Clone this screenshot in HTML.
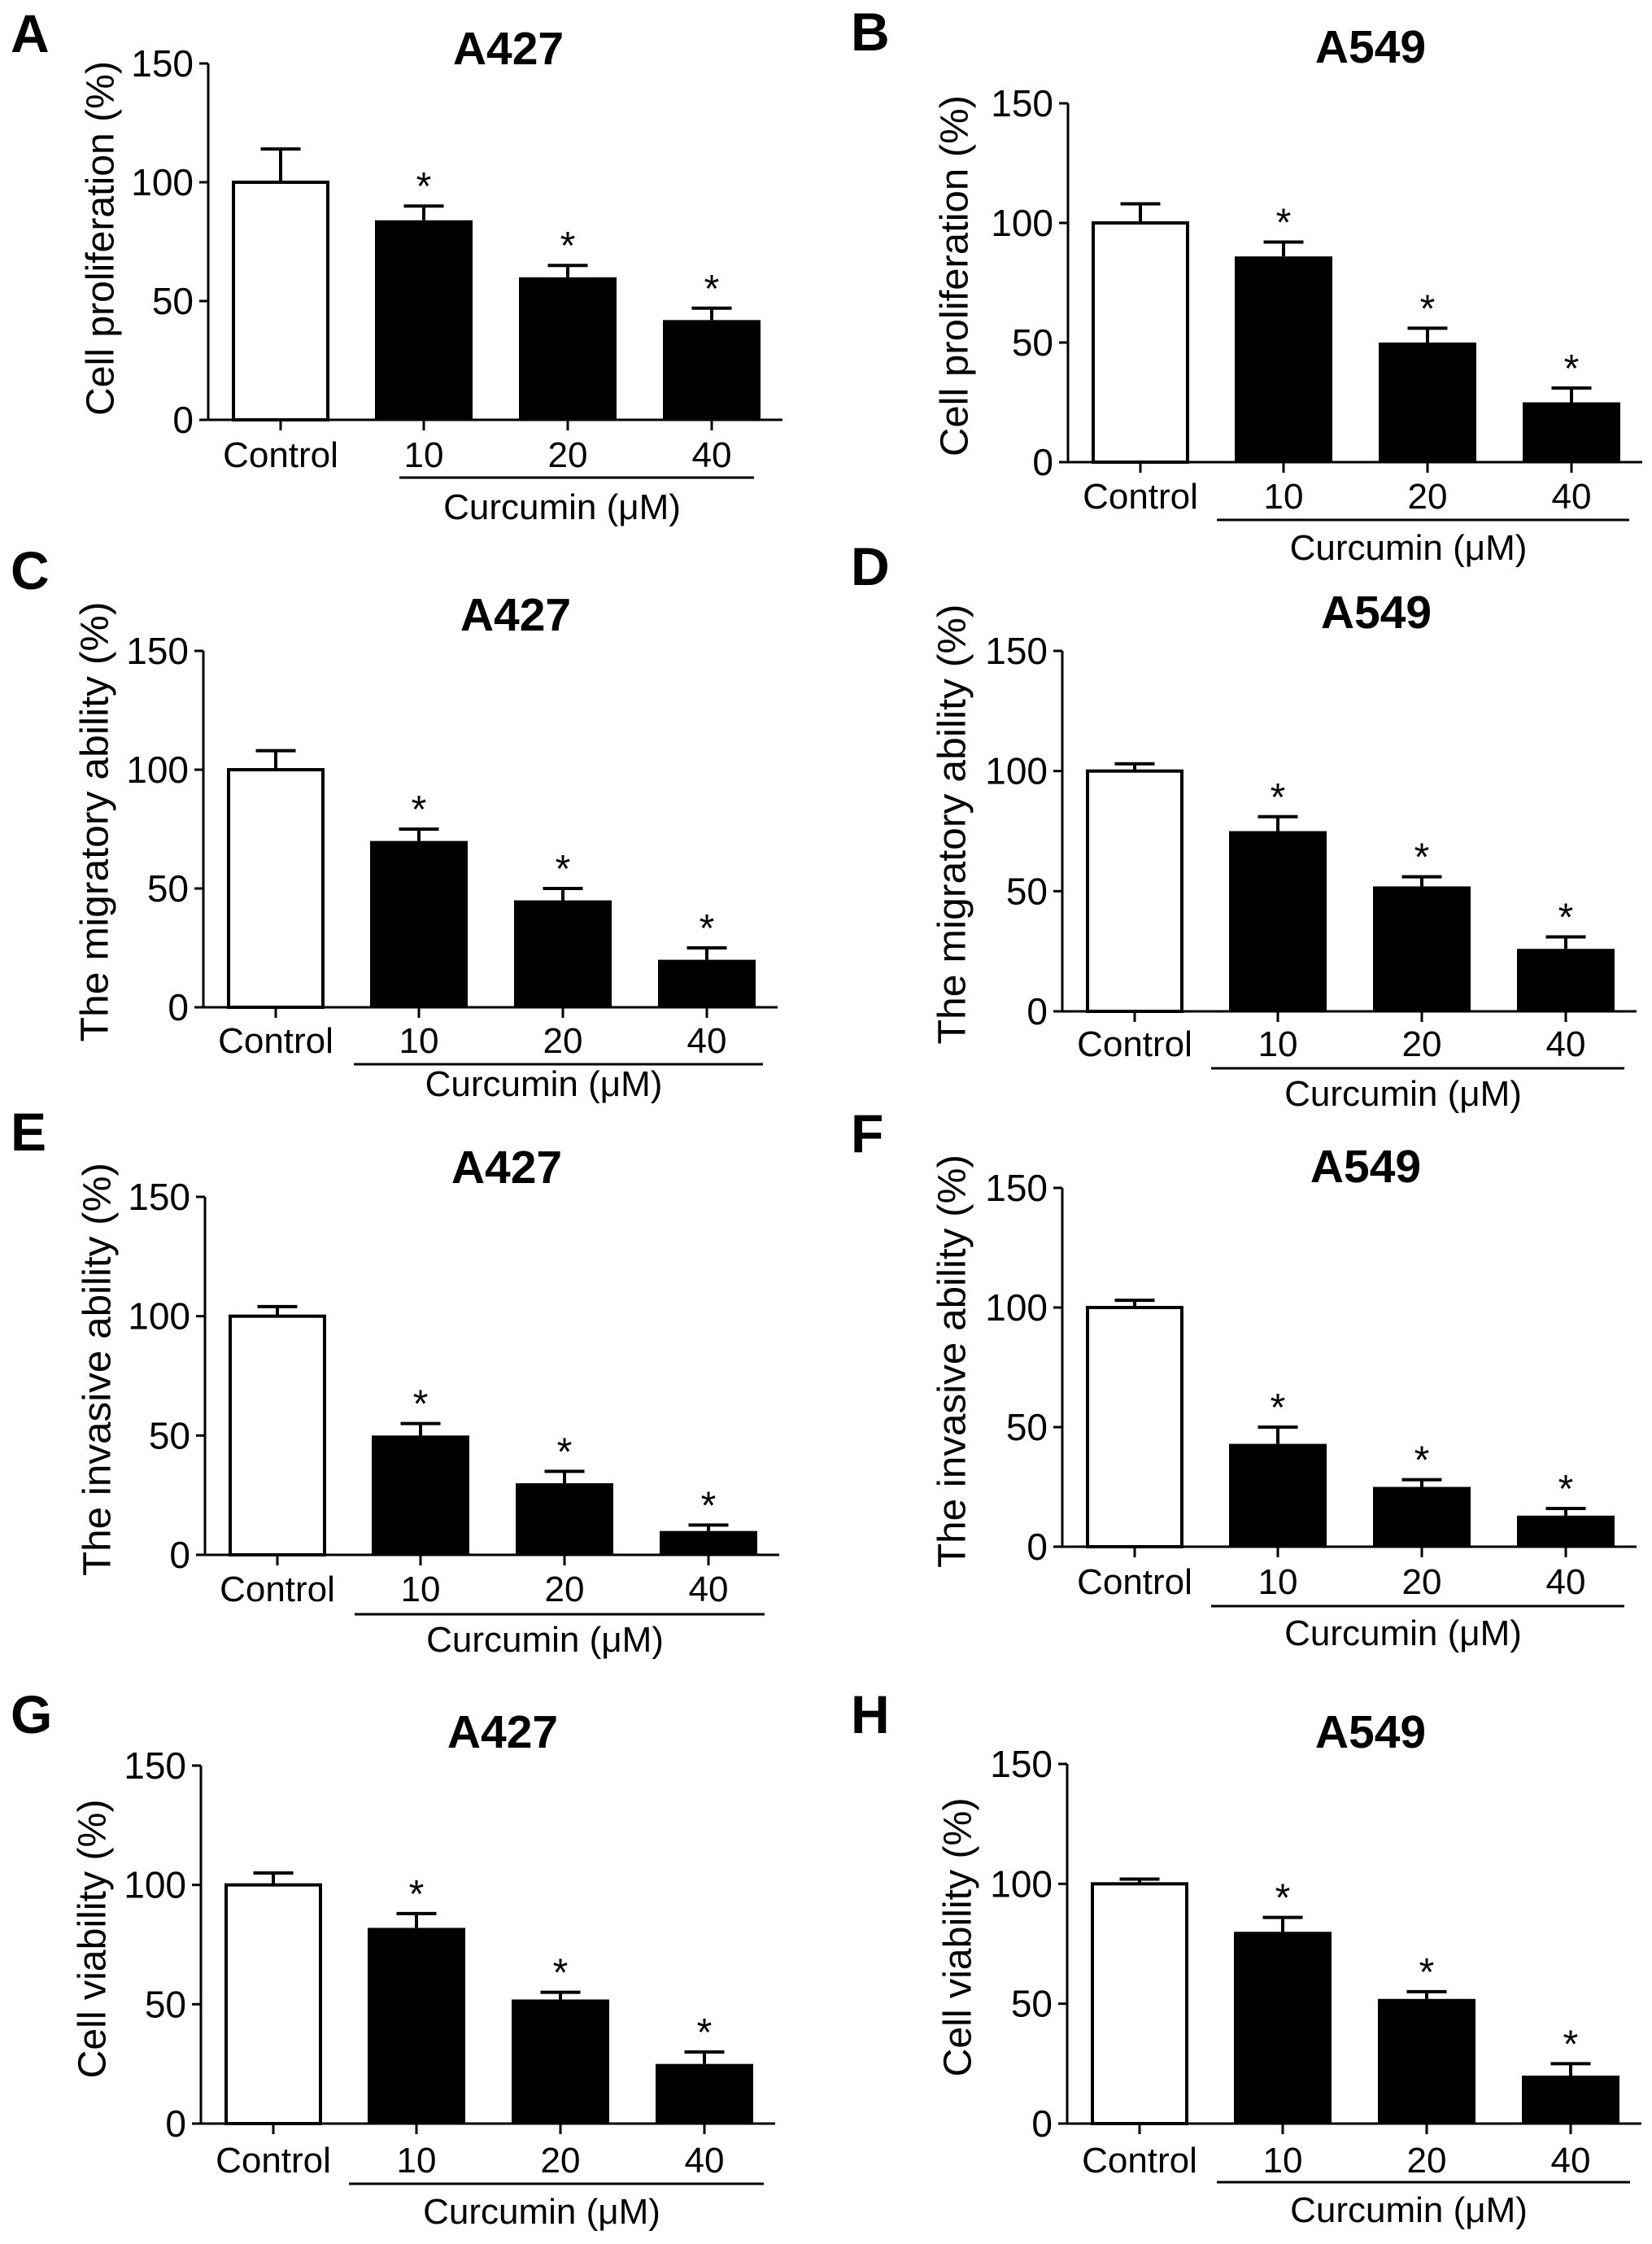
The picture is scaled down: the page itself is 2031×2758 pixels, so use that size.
<!DOCTYPE html>
<html>
<head>
<meta charset="utf-8">
<style>
html,body{margin:0;padding:0;background:#fff;}
svg{display:block;}
text{font-family:"Liberation Sans",Arial,sans-serif;fill:#000;}
</style>
</head>
<body>
<svg id="fig" width="2031" height="2758" viewBox="0 0 2031 2758" xmlns="http://www.w3.org/2000/svg"></svg>
<script>
const categories = ["Control", "10", "20", "40"];
const yTicks = [0, 50, 100, 150];
const meansA = [100, 84, 60, 42];
const errsA = [114, 90, 65, 47];
const meansB = [100, 86, 50, 25];
const errsB = [108, 92, 56, 31];
const meansC = [100, 70, 45, 20];
const errsC = [108, 75, 50, 25];
const meansD = [100, 75, 52, 26];
const errsD = [103, 81, 56, 31];
const meansE = [100, 50, 30, 10];
const errsE = [104, 55, 35, 12.5];
const meansF = [100, 43, 25, 13];
const errsF = [103, 50, 28, 16];
const meansG = [100, 82, 52, 25];
const errsG = [105, 88, 55, 30];
const meansH = [100, 80, 52, 20];
const errsH = [102, 86, 55, 25];

const panels = [
 {id:"A",title:"A427",means:meansA,errs:errsA,ax:256,y150:78,y0:516,tcx:625,tby:79,lx:13,lby:64,ylx:124,yly:293,ylab:"Cell proliferation (%)",ylen:436,lblY:574,cl:587,cx1:491,cx2:927,cby:638},
 {id:"B",title:"A549",means:meansB,errs:errsB,ax:1313,y150:127,y0:568,tcx:1685,tby:77,lx:1046,lby:62,ylx:1174,yly:339,ylab:"Cell proliferation (%)",ylen:444,lblY:625,cl:639,cx1:1496,cx2:2003,cby:688},
 {id:"C",title:"A427",means:meansC,errs:errsC,ax:250,y150:800,y0:1238,tcx:634,tby:775,lx:13,lby:724,ylx:117,yly:1010,ylab:"The  migratory ability (%)",ylen:541,lblY:1294,cl:1308,cx1:435,cx2:938,cby:1347},
 {id:"D",title:"A549",means:meansD,errs:errsD,ax:1306,y150:800,y0:1243,tcx:1692,tby:772,lx:1046,lby:719,ylx:1171,yly:1013,ylab:"The  migratory ability (%)",ylen:541,lblY:1298,cl:1313,cx1:1489,cx2:1997,cby:1359},
 {id:"E",title:"A427",means:meansE,errs:errsE,ax:252,y150:1471,y0:1911,tcx:623,tby:1454,lx:13,lby:1414,ylx:120,yly:1683,ylab:"The invasive ability (%)",ylen:508,lblY:1968,cl:1984,cx1:436,cx2:940,cby:2030},
 {id:"F",title:"A549",means:meansF,errs:errsF,ax:1306,y150:1460,y0:1901,tcx:1679,tby:1453,lx:1046,lby:1416,ylx:1171,yly:1673,ylab:"The invasive ability (%)",ylen:508,lblY:1959,cl:1974,cx1:1489,cx2:1997,cby:2022},
 {id:"G",title:"A427",means:meansG,errs:errsG,ax:247,y150:2170,y0:2610,tcx:618,tby:2148,lx:13,lby:2130,ylx:114,yly:2383,ylab:"Cell viability (%)",ylen:343,lblY:2670,cl:2684,cx1:429,cx2:939,cby:2733},
 {id:"H",title:"A549",means:meansH,errs:errsH,ax:1312,y150:2168,y0:2610,tcx:1685,tby:2148,lx:1046,lby:2130,ylx:1178,yly:2381,ylab:"Cell viability (%)",ylen:343,lblY:2670,cl:2682,cx1:1496,cx2:2004,cby:2731}
];
const NS = "http://www.w3.org/2000/svg";
const svg = document.getElementById("fig");
function mk(tag, attrs, parent){
  const e = document.createElementNS(NS, tag);
  for (const k in attrs) e.setAttribute(k, attrs[k]);
  (parent||svg).appendChild(e);
  return e;
}
const offsets = [89, 265, 442, 619];
const BW = 120, CAP = 49, SW = 4;
panels.forEach(p => {
  const g = mk("g", {});
  
  
  const yS = v => p.y0 - (v / 150) * (p.y0 - p.y150);
  const xS = i => p.ax + offsets[i];
  const letter = mk("text", {x:p.lx, y:p.lby, "font-size":66, "font-weight":"bold"}, g);
  letter.textContent = p.id;
  
  
  const t = mk("text", {x:p.tcx, y:p.tby, "font-size":57, "font-weight":"bold", "text-anchor":"middle"}, g);
  t.textContent = p.title;
  
  
  const yl = mk("text", {x:0, y:0, "font-size":48, "text-anchor":"middle", "dominant-baseline":"central", textLength:p.ylen, lengthAdjust:"spacingAndGlyphs", transform:`translate(${p.ylx},${p.yly}) rotate(-90)`}, g);
  yl.textContent = p.ylab;
  
  
  const ya = mk("line", {x1:p.ax, y1:yS(150), x2:p.ax, y2:p.y0+1.5, stroke:"#000", "stroke-width":3}, g);
  
  
  yTicks.forEach(v => {
    const y = yS(v);
    const tk = mk("line", {x1:p.ax-11, y1:y, x2:p.ax, y2:y, stroke:"#000", "stroke-width":3}, g);
    
    
    const tl = mk("text", {x:p.ax-18, y:y+16, "font-size":46, "text-anchor":"end"}, g);
    tl.textContent = String(v);
    
    
  });
  categories.forEach((c, i) => {
    const cx = xS(i), top = yS(p.means[i]), et = yS(p.errs[i]);
    const ctrl = i === 0;
    const eb = mk("line", {x1:cx, y1:et, x2:cx, y2:top, stroke:"#000", "stroke-width":SW}, g);
    
    
    const ec = mk("line", {x1:cx-CAP/2, y1:et, x2:cx+CAP/2, y2:et, stroke:"#000", "stroke-width":SW}, g);
    
    
    const bar = mk("rect", {x:cx-BW/2+(ctrl?SW/2:0), y:top, width:BW-(ctrl?SW:0), height:p.y0-top, fill:ctrl?"#fff":"#000", stroke:"#000", "stroke-width":ctrl?SW:0}, g);
    
    
    const tk = mk("line", {x1:cx, y1:p.y0, x2:cx, y2:p.y0+13, stroke:"#000", "stroke-width":3}, g);
    
    
    const lb = mk("text", {x:cx, y:p.lblY, "font-size":44, "text-anchor":"middle"}, g);
    lb.textContent = c;
    
    
    if (!ctrl) {
      const st = mk("text", {x:cx, y:et-8, "font-size":48, "text-anchor":"middle"}, g);
      st.textContent = "*";
      
      
    }
  });
  const xa = mk("line", {x1:p.ax-11, y1:p.y0, x2:p.ax+706, y2:p.y0, stroke:"#000", "stroke-width":3}, g);
  
  
  const cl = mk("line", {x1:p.cx1, y1:p.cl, x2:p.cx2, y2:p.cl, stroke:"#000", "stroke-width":3}, g);
  
  
  const ct = mk("text", {x:(p.cx1+p.cx2)/2-18, y:p.cby, "font-size":44, "text-anchor":"middle"}, g);
  ct.textContent = "Curcumin (\u03bcM)";
  
  
});
</script>
</body>
</html>
